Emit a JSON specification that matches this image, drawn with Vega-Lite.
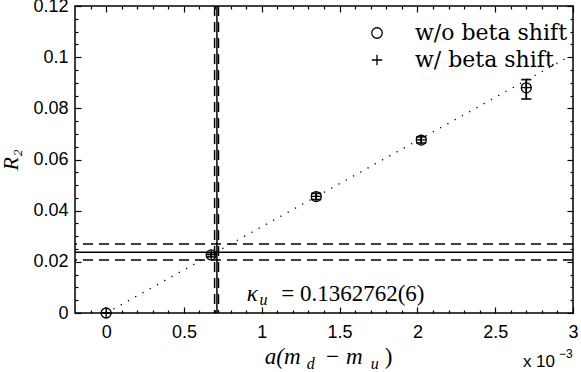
{
  "$schema": "https://vega.github.io/schema/vega-lite/v6.json",
  "width": 498,
  "height": 307,
  "autosize": "none",
  "padding": {"left": 75, "top": 6, "right": 8, "bottom": 59},
  "config": {
    "view": {"stroke": "black", "strokeWidth": 1.5},
    "axis": {"labelFont": "Liberation Sans", "labelFontSize": 18, "labelColor": "black", "tickColor": "black", "tickWidth": 1.2, "grid": false, "domain": false}
  },
  "datasets": {
    "pts": [
      {"s": "w/o beta shift", "x": 0, "y": 0, "lo": 0, "hi": 0},
      {"s": "w/o beta shift", "x": 0.000675, "y": 0.0227, "lo": 0.0219, "hi": 0.0235},
      {"s": "w/o beta shift", "x": 0.00135, "y": 0.0455, "lo": 0.0443, "hi": 0.0467},
      {"s": "w/o beta shift", "x": 0.002025, "y": 0.0676, "lo": 0.0664, "hi": 0.0688},
      {"s": "w/o beta shift", "x": 0.0027, "y": 0.088, "lo": 0.0836, "hi": 0.0912},
      {"s": "w/ beta shift", "x": 0, "y": 0, "lo": 0, "hi": 0},
      {"s": "w/ beta shift", "x": 0.000675, "y": 0.0228, "lo": 0.022, "hi": 0.0236},
      {"s": "w/ beta shift", "x": 0.00135, "y": 0.0456, "lo": 0.0444, "hi": 0.0468},
      {"s": "w/ beta shift", "x": 0.002025, "y": 0.0677, "lo": 0.0665, "hi": 0.0689},
      {"s": "w/ beta shift", "x": 0.0027, "y": 0.0881, "lo": 0.0837, "hi": 0.0913}
    ],
    "fit": [{"x": 0, "y": 0}, {"x": 0.00297, "y": 0.1001}],
    "hl": [{"y": 0.0237, "k": "solid"}, {"y": 0.027, "k": "dash"}, {"y": 0.0207, "k": "dash"}],
    "vl": [{"x": 0.000712, "k": "solid"}, {"x": 0.000697, "k": "dash"}, {"x": 0.000722, "k": "dash"}],
    "ann": [
      {"t": "κ", "x": 0.0009035, "y": 0.0045, "g": "it"},
      {"t": "u", "x": 0.000985, "y": 0.0031, "g": "sub"},
      {"t": "= 0.1362762(6)", "x": 0.001125, "y": 0.0045, "g": "rm"},
      {"t": "a(m", "x": 0.0010193, "y": -0.01994, "g": "it"},
      {"t": "d", "x": 0.0012894, "y": -0.0219, "g": "sub"},
      {"t": "− m", "x": 0.0014051, "y": -0.01994, "g": "it"},
      {"t": "u", "x": 0.001701, "y": -0.0219, "g": "sub"},
      {"t": ")", "x": 0.001791, "y": -0.01994, "g": "rm"},
      {"t": "x 10", "x": 0.002678, "y": -0.0211, "g": "sans"},
      {"t": "−3", "x": 0.00291, "y": -0.0176, "g": "sup"}
    ]
  },
  "layer": [
    {
      "data": {"name": "hl"},
      "transform": [{"filter": "datum.k == 'solid'"}],
      "mark": {"type": "rule", "color": "black", "strokeWidth": 1.5},
      "encoding": {"y": {"field": "y", "type": "quantitative", "scale": {"domain": [0, 0.12], "nice": false, "zero": false}, "axis": null}}
    },
    {
      "data": {"name": "hl"},
      "transform": [{"filter": "datum.k == 'dash'"}],
      "mark": {"type": "rule", "color": "black", "strokeWidth": 1.5, "strokeDash": [10, 6]},
      "encoding": {"y": {"field": "y", "type": "quantitative", "scale": {"domain": [0, 0.12], "nice": false, "zero": false}, "axis": null}}
    },
    {
      "data": {"name": "vl"},
      "transform": [{"filter": "datum.k == 'solid'"}],
      "mark": {"type": "rule", "color": "black", "strokeWidth": 1.5},
      "encoding": {"x": {"field": "x", "type": "quantitative", "scale": {"domain": [-0.0002, 0.003], "nice": false, "zero": false}, "axis": null}}
    },
    {
      "data": {"name": "vl"},
      "transform": [{"filter": "datum.k == 'dash'"}],
      "mark": {"type": "rule", "color": "black", "strokeWidth": 1.5, "strokeDash": [10, 6]},
      "encoding": {"x": {"field": "x", "type": "quantitative", "scale": {"domain": [-0.0002, 0.003], "nice": false, "zero": false}, "axis": null}}
    },
    {
      "data": {"name": "fit"},
      "mark": {"type": "line", "color": "black", "strokeWidth": 1.3, "strokeDash": [1.3, 7]},
      "encoding": {
        "x": {"field": "x", "type": "quantitative", "scale": {"domain": [-0.0002, 0.003], "nice": false, "zero": false}, "axis": null},
        "y": {"field": "y", "type": "quantitative", "scale": {"domain": [0, 0.12], "nice": false, "zero": false}, "axis": null}
      }
    },
    {
      "data": {"name": "pts"},
      "mark": {"type": "rule", "color": "black", "strokeWidth": 1.5},
      "encoding": {
        "x": {"field": "x", "type": "quantitative", "scale": {"domain": [-0.0002, 0.003], "nice": false, "zero": false}, "axis": null},
        "y": {"field": "lo", "type": "quantitative", "scale": {"domain": [0, 0.12], "nice": false, "zero": false}, "axis": null},
        "y2": {"field": "hi"}
      }
    },
    {
      "data": {"name": "pts"},
      "mark": {"type": "tick", "color": "black", "orient": "horizontal", "size": 10, "thickness": 1.5},
      "encoding": {
        "x": {"field": "x", "type": "quantitative", "scale": {"domain": [-0.0002, 0.003], "nice": false, "zero": false}, "axis": null},
        "y": {"field": "lo", "type": "quantitative", "scale": {"domain": [0, 0.12], "nice": false, "zero": false}, "axis": null}
      }
    },
    {
      "data": {"name": "pts"},
      "mark": {"type": "tick", "color": "black", "orient": "horizontal", "size": 10, "thickness": 1.5},
      "encoding": {
        "x": {"field": "x", "type": "quantitative", "scale": {"domain": [-0.0002, 0.003], "nice": false, "zero": false}, "axis": null},
        "y": {"field": "hi", "type": "quantitative", "scale": {"domain": [0, 0.12], "nice": false, "zero": false}, "axis": null}
      }
    },
    {
      "data": {"name": "pts"},
      "mark": {"type": "point", "filled": false, "color": "black", "strokeWidth": 1.3, "size": 100, "opacity": 1},
      "encoding": {
        "x": {"field": "x", "type": "quantitative", "scale": {"domain": [-0.0002, 0.003], "nice": false, "zero": false}, "axis": null},
        "y": {"field": "y", "type": "quantitative", "scale": {"domain": [0, 0.12], "nice": false, "zero": false}, "axis": null},
        "shape": {
          "field": "s", "type": "nominal",
          "scale": {"domain": ["w/o beta shift", "w/ beta shift"], "range": ["circle", "M-1,0H1M0,-1V1"]},
          "legend": {
            "title": null, "orient": "none", "legendX": 291, "legendY": 16,
            "labelFont": "DejaVu Serif", "labelFontSize": 22, "labelColor": "black",
            "labelOffset": 27, "rowPadding": 5, "padding": 0, "labelLimit": 300,
            "symbolStrokeColor": "black", "symbolFillColor": "transparent", "symbolStrokeWidth": 1.3, "symbolSize": 110
          }
        }
      }
    },
    {
      "data": {"name": "ann"},
      "transform": [{"filter": "datum.g == 'it'"}],
      "mark": {"type": "text", "align": "left", "baseline": "alphabetic", "font": "Liberation Serif", "fontStyle": "italic", "fontSize": 23, "color": "black"},
      "encoding": {
        "x": {"field": "x", "type": "quantitative", "scale": {"domain": [-0.0002, 0.003], "nice": false, "zero": false}, "axis": null},
        "y": {"field": "y", "type": "quantitative", "scale": {"domain": [0, 0.12], "nice": false, "zero": false}, "axis": null},
        "text": {"field": "t"}
      }
    },
    {
      "data": {"name": "ann"},
      "transform": [{"filter": "datum.g == 'sub'"}],
      "mark": {"type": "text", "align": "left", "baseline": "alphabetic", "font": "Liberation Serif", "fontStyle": "italic", "fontSize": 16, "color": "black"},
      "encoding": {
        "x": {"field": "x", "type": "quantitative", "scale": {"domain": [-0.0002, 0.003], "nice": false, "zero": false}, "axis": null},
        "y": {"field": "y", "type": "quantitative", "scale": {"domain": [0, 0.12], "nice": false, "zero": false}, "axis": null},
        "text": {"field": "t"}
      }
    },
    {
      "data": {"name": "ann"},
      "transform": [{"filter": "datum.g == 'rm'"}],
      "mark": {"type": "text", "align": "left", "baseline": "alphabetic", "font": "Liberation Serif", "fontSize": 23, "color": "black"},
      "encoding": {
        "x": {"field": "x", "type": "quantitative", "scale": {"domain": [-0.0002, 0.003], "nice": false, "zero": false}, "axis": null},
        "y": {"field": "y", "type": "quantitative", "scale": {"domain": [0, 0.12], "nice": false, "zero": false}, "axis": null},
        "text": {"field": "t"}
      }
    },
    {
      "data": {"name": "ann"},
      "transform": [{"filter": "datum.g == 'sans'"}],
      "mark": {"type": "text", "align": "left", "baseline": "alphabetic", "font": "Liberation Sans", "fontSize": 17, "color": "black"},
      "encoding": {
        "x": {"field": "x", "type": "quantitative", "scale": {"domain": [-0.0002, 0.003], "nice": false, "zero": false}, "axis": null},
        "y": {"field": "y", "type": "quantitative", "scale": {"domain": [0, 0.12], "nice": false, "zero": false}, "axis": null},
        "text": {"field": "t"}
      }
    },
    {
      "data": {"name": "ann"},
      "transform": [{"filter": "datum.g == 'sup'"}],
      "mark": {"type": "text", "align": "left", "baseline": "alphabetic", "font": "Liberation Sans", "fontSize": 12, "color": "black"},
      "encoding": {
        "x": {"field": "x", "type": "quantitative", "scale": {"domain": [-0.0002, 0.003], "nice": false, "zero": false}, "axis": null},
        "y": {"field": "y", "type": "quantitative", "scale": {"domain": [0, 0.12], "nice": false, "zero": false}, "axis": null},
        "text": {"field": "t"}
      }
    },
    {
      "data": {"name": "fit"},
      "mark": {"type": "point", "opacity": 0},
      "encoding": {
        "x": {"field": "x", "type": "quantitative", "scale": {"domain": [-0.0002, 0.003], "nice": false, "zero": false},
          "axis": {"orient": "bottom", "values": [0, 0.0005, 0.001, 0.0015, 0.002, 0.0025, 0.003], "labelExpr": "format(datum.value*1000, '.1~f')", "ticks": false, "labelPadding": 10, "labelOverlap": false, "labelFlush": false, "title": null}},
        "y": {"field": "y", "type": "quantitative", "scale": {"domain": [0, 0.12], "nice": false, "zero": false},
          "axis": {"orient": "left", "values": [0, 0.02, 0.04, 0.06, 0.08, 0.1, 0.12], "labelExpr": "format(datum.value, '.2~f')", "ticks": false, "labelPadding": 7, "labelOverlap": false, "labelFlush": false, "labelBound": false, "title": "R₂", "titleFont": "Liberation Serif", "titleFontStyle": "italic", "titleFontWeight": "normal", "titleFontSize": 22, "titleColor": "black", "titlePadding": 10}}
      }
    },
    {
      "data": {"name": "fit"},
      "mark": {"type": "point", "opacity": 0},
      "encoding": {
        "x": {"field": "x", "type": "quantitative", "scale": {"domain": [-0.0002, 0.003], "nice": false, "zero": false},
          "axis": {"orient": "bottom", "values": [0, 0.0005, 0.001, 0.0015, 0.002, 0.0025, 0.003], "labels": false, "tickSize": -6, "title": null}},
        "y": {"field": "y", "type": "quantitative", "scale": {"domain": [0, 0.12], "nice": false, "zero": false},
          "axis": {"orient": "left", "values": [0, 0.02, 0.04, 0.06, 0.08, 0.1, 0.12], "labels": false, "tickSize": -6, "title": null}}
      }
    },
    {
      "data": {"name": "fit"},
      "mark": {"type": "point", "opacity": 0},
      "encoding": {
        "x": {"field": "x", "type": "quantitative", "scale": {"domain": [-0.0002, 0.003], "nice": false, "zero": false},
          "axis": {"orient": "bottom", "values": [-0.0001, 0.0001, 0.0002, 0.0003, 0.0004, 0.0006, 0.0007, 0.0008, 0.0009, 0.0011, 0.0012, 0.0013, 0.0014, 0.0016, 0.0017, 0.0018, 0.0019, 0.0021, 0.0022, 0.0023, 0.0024, 0.0026, 0.0027, 0.0028, 0.0029], "labels": false, "tickSize": -3, "title": null}},
        "y": {"field": "y", "type": "quantitative", "scale": {"domain": [0, 0.12], "nice": false, "zero": false},
          "axis": {"orient": "left", "values": [0.005, 0.01, 0.015, 0.025, 0.03, 0.035, 0.045, 0.05, 0.055, 0.065, 0.07, 0.075, 0.085, 0.09, 0.095, 0.105, 0.11, 0.115], "labels": false, "tickSize": -3, "title": null}}
      }
    },
    {
      "data": {"name": "fit"},
      "mark": {"type": "point", "opacity": 0},
      "encoding": {
        "x": {"field": "x", "type": "quantitative", "scale": {"domain": [-0.0002, 0.003], "nice": false, "zero": false},
          "axis": {"orient": "top", "values": [0, 0.0005, 0.001, 0.0015, 0.002, 0.0025, 0.003], "labels": false, "tickSize": -6, "title": null}},
        "y": {"field": "y", "type": "quantitative", "scale": {"domain": [0, 0.12], "nice": false, "zero": false},
          "axis": {"orient": "right", "values": [0, 0.02, 0.04, 0.06, 0.08, 0.1, 0.12], "labels": false, "tickSize": -6, "title": null}}
      }
    },
    {
      "data": {"name": "fit"},
      "mark": {"type": "point", "opacity": 0},
      "encoding": {
        "x": {"field": "x", "type": "quantitative", "scale": {"domain": [-0.0002, 0.003], "nice": false, "zero": false},
          "axis": {"orient": "top", "values": [-0.0001, 0.0001, 0.0002, 0.0003, 0.0004, 0.0006, 0.0007, 0.0008, 0.0009, 0.0011, 0.0012, 0.0013, 0.0014, 0.0016, 0.0017, 0.0018, 0.0019, 0.0021, 0.0022, 0.0023, 0.0024, 0.0026, 0.0027, 0.0028, 0.0029], "labels": false, "tickSize": -3, "title": null}},
        "y": {"field": "y", "type": "quantitative", "scale": {"domain": [0, 0.12], "nice": false, "zero": false},
          "axis": {"orient": "right", "values": [0.005, 0.01, 0.015, 0.025, 0.03, 0.035, 0.045, 0.05, 0.055, 0.065, 0.07, 0.075, 0.085, 0.09, 0.095, 0.105, 0.11, 0.115], "labels": false, "tickSize": -3, "title": null}}
      }
    }
  ],
  "resolve": {"axis": {"x": "independent", "y": "independent"}}
}
